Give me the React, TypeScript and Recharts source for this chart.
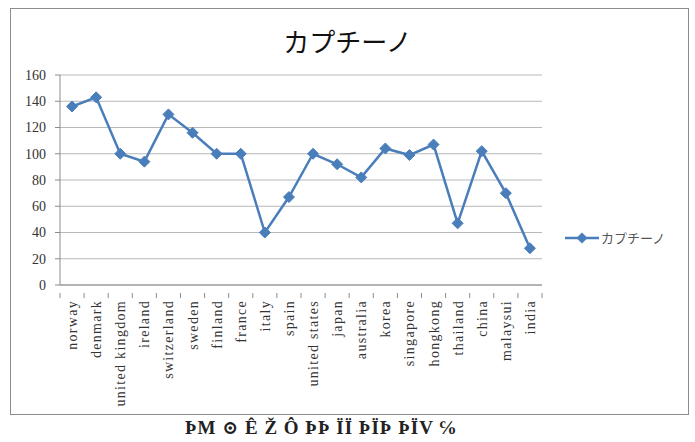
import { LineChart, Line, XAxis, YAxis, CartesianGrid } from 'recharts'

const countries = [
  'norway', 'denmark', 'united kingdom', 'ireland', 'switzerland', 'sweden',
  'finland', 'france', 'italy', 'spain', 'united states', 'japan', 'australia',
  'korea', 'singapore', 'hongkong', 'thailand', 'china', 'malaysui', 'india',
]
const cappuccino = [136, 143, 100, 94, 130, 116, 100, 100, 40, 67, 100, 92, 82, 104, 99, 107, 47, 102, 70, 28]
const yTicks = [0, 20, 40, 60, 80, 100, 120, 140, 160]
const seriesName = 'カプチーノ'
const caption = 'ÞM ⊙ Ê Ž Ô ÞÞ ÏÏ ÞÏÞ ÞÏV ℅'

const data = countries.map((c, i) => ({ country: c, value: cappuccino[i] }))

const BLUE = '#4a7ebb'
const AXIS = '#8c8c8c'
const SERIF = '"Liberation Serif", "DejaVu Serif", serif'
const PLOT_W = 482
const HALF = PLOT_W / countries.length / 2

function Diamond(props: any) {
  const { cx, cy } = props
  if (cx == null || cy == null) return null
  const r = 5.5
  return (
    <path
      d={`M${cx},${cy - r}L${cx + r},${cy}L${cx},${cy + r}L${cx - r},${cy}Z`}
      fill={BLUE}
      stroke={BLUE}
    />
  )
}

function CountryTick(props: any) {
  const { x, y, payload, index } = props
  const last = index === countries.length - 1
  return (
    <g>
      <line x1={x - HALF} y1={y} x2={x - HALF} y2={y + 5} stroke={AXIS} />
      {last && <line x1={x + HALF} y1={y} x2={x + HALF} y2={y + 5} stroke={AXIS} />}
      <text
        x={0}
        y={0}
        transform={`translate(${x + 5},${y + 7}) rotate(-90)`}
        textAnchor="end"
        fontFamily={SERIF}
        fontSize={14}
        letterSpacing={1.3}
        fill="#333"
      >
        {payload.value}
      </text>
    </g>
  )
}

export default function App() {
  return (
    <div style={{ position: 'absolute', left: 0, top: 0, width: 695, height: 442, background: '#fff', overflow: 'hidden' }}>
      <div
        style={{
          position: 'absolute', left: 10, top: 8, width: 679, height: 407,
          border: '1px solid #8c8c8c', boxSizing: 'border-box',
        }}
      />
      <div
        style={{
          position: 'absolute', left: 0, top: 22, width: 695, textAlign: 'center',
          fontFamily: '"Noto Sans CJK JP", sans-serif', fontSize: 26, color: '#111',
        }}
      >
        {seriesName}
      </div>
      <div style={{ position: 'absolute', left: 0, top: 0 }}>
        <LineChart width={695} height={442} data={data} margin={{ top: 75, right: 153, left: 0, bottom: 0 }}>
          <CartesianGrid vertical={false} stroke="#b8b8b8" strokeWidth={1} />
          <XAxis
            dataKey="country"
            interval={0}
            height={157}
            padding={{ left: HALF, right: HALF }}
            tick={<CountryTick />}
            tickLine={false}
            stroke={AXIS}
          />
          <YAxis
            width={60}
            domain={[0, 160]}
            ticks={yTicks}
            interval={0}
            stroke={AXIS}
            tickSize={5}
            tickMargin={9}
            tick={{ fontFamily: SERIF, fontSize: 14, fill: '#333' }}
          />
          <Line
            dataKey="value"
            name={seriesName}
            stroke={BLUE}
            strokeWidth={2.5}
            dot={<Diamond />}
            activeDot={false}
            isAnimationActive={false}
          />
        </LineChart>
      </div>
      <div style={{ position: 'absolute', left: 565, top: 228, display: 'flex', alignItems: 'center' }}>
        <svg width={34} height={14}>
          <line x1={0} y1={7} x2={34} y2={7} stroke={BLUE} strokeWidth={2.5} />
          <path d="M17,1.5L22.5,7L17,12.5L11.5,7Z" fill={BLUE} />
        </svg>
        <span style={{ fontFamily: '"Noto Sans CJK JP", sans-serif', fontSize: 13, color: '#555', marginLeft: 2 }}>
          {seriesName}
        </span>
      </div>
      <div
        style={{
          position: 'absolute', left: 185, top: 417, fontFamily: SERIF, fontSize: 19,
          lineHeight: '22px', fontWeight: 'bold', color: '#222', letterSpacing: 1, whiteSpace: 'nowrap',
        }}
      >
        {caption}
      </div>
    </div>
  )
}
